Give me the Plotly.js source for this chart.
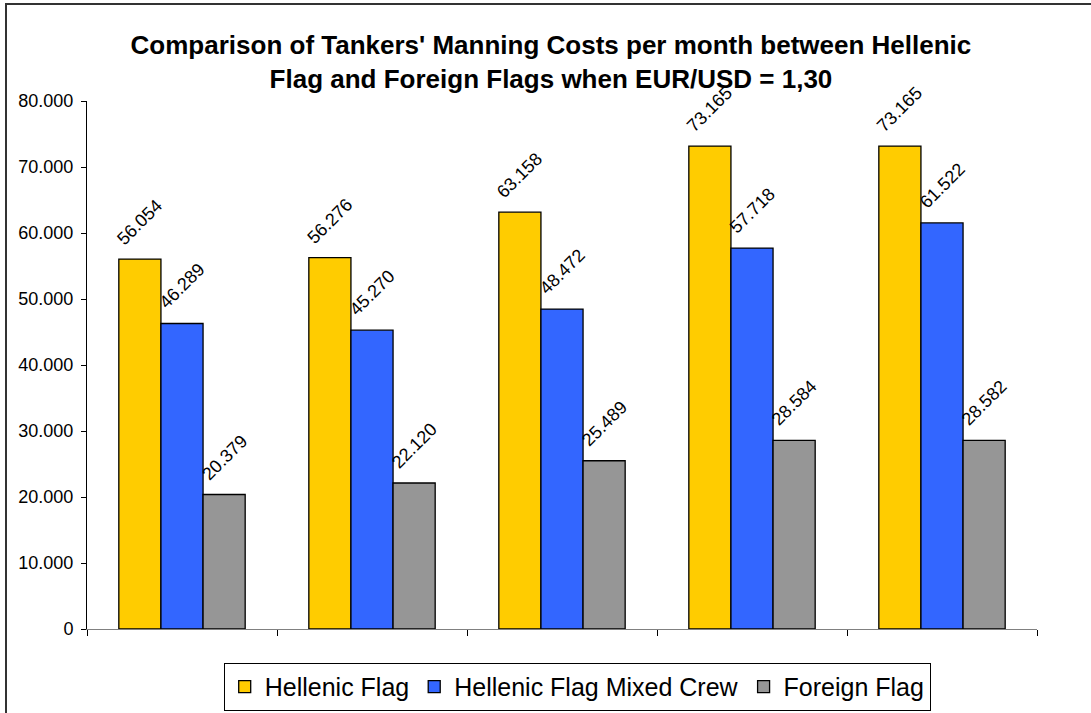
<!DOCTYPE html>
<html>
<head>
<meta charset="utf-8">
<script src="https://cdn.plot.ly/plotly-3.0.1.min.js"></script>
<style>
  html, body { margin: 0; padding: 0; background: #fff; }
  #wrap { position: relative; width: 1091px; height: 713px; overflow: hidden; }
  #chart { position: absolute; left: 0; top: 0; width: 1091px; height: 713px; }
  #frame { position: absolute; left: 5px; top: 3px; width: 2000px; height: 2000px;
           border-left: 2px solid #333; border-top: 2px solid #333; pointer-events: none; }
</style>
</head>
<body>
<div id="wrap">
  <div id="chart"></div>
  <div id="frame"></div>
</div>
<script>
// ---- data ----
const categories = ['Group 1', 'Group 2', 'Group 3', 'Group 4', 'Group 5'];
const seriesNames = ['Hellenic Flag', 'Hellenic Flag Mixed Crew', 'Foreign Flag'];
const hellenicFlag = [56054, 56276, 63158, 73165, 73165];
const hellenicMixedCrew = [46289, 45270, 48472, 57718, 61522];
const foreignFlag = [20379, 22120, 25489, 28584, 28582];
const yTickValues = [0, 10000, 20000, 30000, 40000, 50000, 60000, 70000, 80000];

const seriesValues = [hellenicFlag, hellenicMixedCrew, foreignFlag];
const seriesColors = ['#FFCC00', '#3366FF', '#969696'];

const FONT = 'Liberation Sans, Arial, sans-serif';
const bargap = 0.335;
const barW = (1 - bargap) / seriesValues.length;

function fmt(v) {
  return String(v).replace(/\B(?=(\d{3})+(?!\d))/g, '.');
}

const traces = seriesValues.map((vals, i) => ({
  type: 'bar',
  name: seriesNames[i],
  x: categories,
  y: vals,
  marker: { color: seriesColors[i], line: { color: '#000', width: 1.3 } },
  hoverinfo: 'skip'
}));

const annotations = [];
seriesValues.forEach((vals, s) => {
  vals.forEach((v, c) => {
    annotations.push({
      x: c + (s - 1) * barW,
      y: v,
      xref: 'x', yref: 'y',
      text: fmt(v),
      showarrow: false,
      textangle: -45,
      xanchor: 'center', yanchor: 'middle',
      yshift: 37,
      font: { family: FONT, size: 18, color: '#000' }
    });
  });
});

const layout = {
  width: 1091, height: 713,
  paper_bgcolor: 'rgba(0,0,0,0)',
  plot_bgcolor: 'rgba(0,0,0,0)',
  separators: ',.',
  margin: { l: 87, r: 54, t: 101, b: 84, autoexpand: false },
  barmode: 'group',
  bargap: bargap,
  bargroupgap: 0,
  showlegend: true,
  title: {
    text: "Comparison of Tankers' Manning Costs per month between Hellenic<br>Flag and Foreign Flags when EUR/USD = 1,30",
    font: { family: FONT, size: 26, color: '#000', weight: 'bold' },
    x: 0.505, xanchor: 'center',
    y: 0.924, yanchor: 'top'
  },
  xaxis: {
    type: 'category',
    categoryarray: categories,
    showticklabels: false,
    tickson: 'boundaries',
    ticks: 'outside', ticklen: 6, tickcolor: '#000', tickwidth: 1,
    showline: true, linecolor: '#808080', linewidth: 1.3,
    showgrid: false, zeroline: false,
    range: [-0.5, 4.5], fixedrange: true
  },
  yaxis: {
    range: [0, 80000],
    tickvals: yTickValues,
    tickformat: ',d',
    ticks: 'outside', ticklen: 5, tickcolor: '#000', tickwidth: 1,
    ticklabelstandoff: 4,
    showline: true, linecolor: '#000', linewidth: 1,
    showgrid: false, zeroline: false,
    tickfont: { family: FONT, size: 18, color: '#000' },
    fixedrange: true
  },
  legend: {
    orientation: 'h',
    x: 0.516, xanchor: 'center',
    y: -0.064, yanchor: 'top',
    bordercolor: '#000', borderwidth: 1,
    bgcolor: '#fff',
    font: { family: FONT, size: 25, color: '#000' },
    itemclick: false, itemdoubleclick: false
  },
  annotations: annotations
};

Plotly.newPlot('chart', traces, layout, { displayModeBar: false, staticPlot: true });
</script>
</body>
</html>
